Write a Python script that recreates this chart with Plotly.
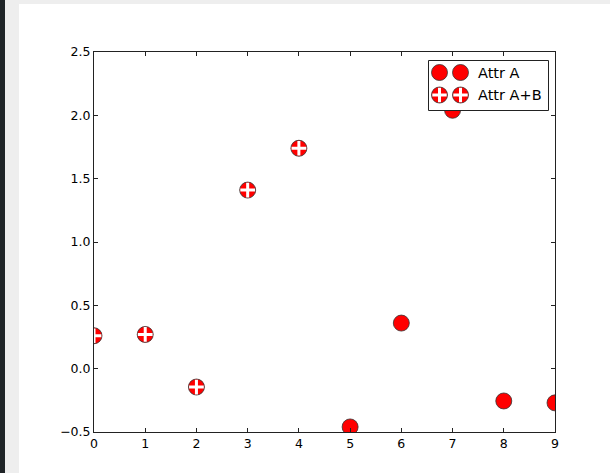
import plotly.graph_objects as go

# ---- data ----
x_ab = [0, 1, 2, 3, 4]
y_ab = [0.26, 0.27, -0.145, 1.41, 1.74]
x_a = [5, 6, 7, 8, 9]
y_a = [-0.46, 0.36, 2.04, -0.255, -0.27]
x_ticks = list(range(10))
y_ticks = [-0.5, 0.0, 0.5, 1.0, 1.5, 2.0, 2.5]
legend_labels = ["Attr A", "Attr A+B"]

RED = "#ff0000"
EDGE = "#333333"
AX = "#222222"
MS = 16

# plot area in px
W, H = 610, 473
L, R, T, B = 94, 555, 52, 432
PW, PH = R - L, B - T


def px_x(p):
    return (p - L) / PW


def px_y(p):
    return (B - p) / PH


fig = go.Figure()

# Attr A
fig.add_trace(go.Scatter(
    x=x_a, y=y_a, mode="markers", showlegend=False,
    marker=dict(symbol="circle", size=MS, color=RED, line=dict(color=EDGE, width=0.8)),
))
# Attr A+B: red circle + white cross
fig.add_trace(go.Scatter(
    x=x_ab, y=y_ab, mode="markers", showlegend=False,
    marker=dict(symbol="circle", size=MS, color=RED, line=dict(color=EDGE, width=0.8)),
))
fig.add_trace(go.Scatter(
    x=x_ab, y=y_ab, mode="markers", showlegend=False, hoverinfo="skip",
    marker=dict(symbol="cross-thin-open", size=10.5, color="white", line=dict(color="white", width=3)),
))

shapes = []
# page chrome: left dark bar, gray band, top gray band
shapes.append(dict(type="rect", xref="paper", yref="paper", layer="below",
                   x0=px_x(5), x1=px_x(19), y0=px_y(H + 5), y1=px_y(-5),
                   fillcolor="#eeeeee", line=dict(width=0)))
shapes.append(dict(type="rect", xref="paper", yref="paper", layer="below",
                   x0=px_x(5), x1=px_x(W + 5), y0=px_y(4), y1=px_y(-5),
                   fillcolor="#eeeeee", line=dict(width=0)))
shapes.append(dict(type="rect", xref="paper", yref="paper", layer="below",
                   x0=px_x(-5), x1=px_x(5), y0=px_y(H + 5), y1=px_y(-5),
                   fillcolor="#1f2427", line=dict(width=0)))

# legend box
shapes.append(dict(type="rect", xref="paper", yref="paper", layer="above",
                   x0=px_x(428.5), x1=px_x(548.5), y0=px_y(110.5), y1=px_y(60.5),
                   fillcolor="white", line=dict(color=AX, width=1)))
rows = [72.5, 95]
cols = [439.5, 460.5]
r = MS / 2
for i, yy in enumerate(rows):
    for xx in cols:
        shapes.append(dict(type="circle", xref="paper", yref="paper", layer="above",
                           xsizemode="pixel", ysizemode="pixel",
                           xanchor=px_x(xx), yanchor=px_y(yy),
                           x0=-r, x1=r, y0=-r, y1=r,
                           fillcolor=RED, line=dict(color=EDGE, width=0.8)))
        if i == 1:
            a = 7.2
            shapes.append(dict(type="line", xref="paper", yref="paper", layer="above",
                               xsizemode="pixel", ysizemode="pixel",
                               xanchor=px_x(xx), yanchor=px_y(yy),
                               x0=-a, x1=a, y0=0, y1=0,
                               line=dict(color="white", width=3)))
            shapes.append(dict(type="line", xref="paper", yref="paper", layer="above",
                               xsizemode="pixel", ysizemode="pixel",
                               xanchor=px_x(xx), yanchor=px_y(yy),
                               x0=0, x1=0, y0=-a, y1=a,
                               line=dict(color="white", width=3)))

annotations = []
for lab, yy in zip(legend_labels, rows):
    annotations.append(dict(text=lab, xref="paper", yref="paper",
                            x=px_x(475.5), y=px_y(yy), xanchor="left", yanchor="middle",
                            showarrow=False, font=dict(size=14.5, color="black")))

axis_common = dict(showline=True, linecolor=AX, linewidth=1, mirror="ticks",
                   ticks="inside", ticklen=4, tickwidth=1, tickcolor=AX,
                   showgrid=False, zeroline=False,
                   tickfont=dict(family="DejaVu Sans", size=12.5, color="black"))

fig.update_layout(
    width=W, height=H,
    margin=dict(l=L, r=W - R, t=T, b=H - B, pad=0),
    paper_bgcolor="white", plot_bgcolor="white",
    font=dict(family="DejaVu Sans", color="black"),
    xaxis=dict(range=[0, 9], tickvals=x_ticks, **axis_common),
    yaxis=dict(range=[-0.5, 2.5], tickvals=y_ticks, tickformat=".1f", **axis_common),
    shapes=shapes, annotations=annotations, showlegend=False,
)

fig.write_html(
    "out.html",
    config={"displayModeBar": False},
    post_script="document.body.style.margin='0';document.body.style.overflow='hidden';",
)
